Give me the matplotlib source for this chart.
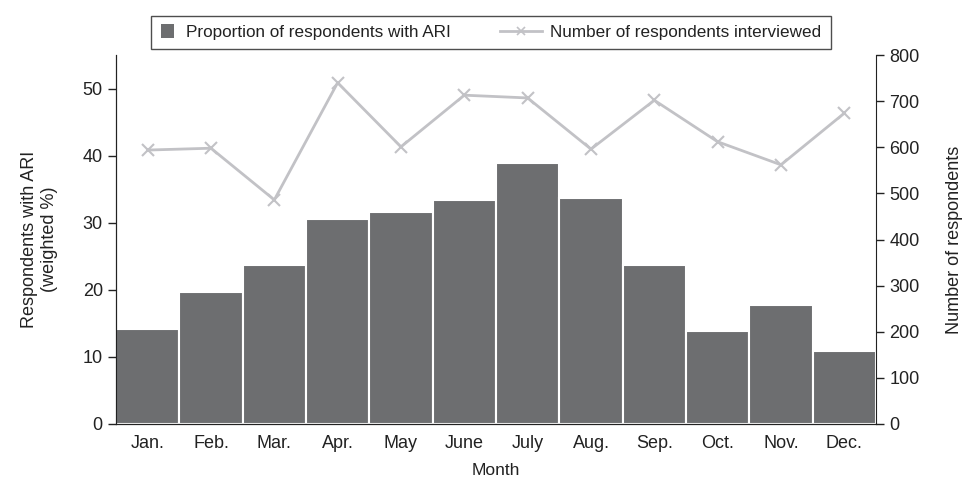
import numpy as np
import matplotlib.pyplot as plt
from matplotlib.patches import Rectangle
from matplotlib.lines import Line2D

plt.rcParams['font.family'] = ['Liberation Sans', 'DejaVu Sans']

months = ['Jan.', 'Feb.', 'Mar.', 'Apr.', 'May', 'June', 'July', 'Aug.', 'Sep.', 'Oct.', 'Nov.', 'Dec.']
ari_pct = [14.2, 19.7, 23.7, 30.6, 31.6, 33.4, 38.9, 33.7, 23.7, 13.9, 17.8, 10.9]
n_interviewed = [594, 598, 486, 740, 601, 713, 707, 596, 702, 612, 562, 674]

bar_color = '#6d6e70'
line_color = '#c2c2c6'
ink = '#222222'


# legend handles: small square for bars, longer line for the series
class SquareHandler:
    def legend_artist(self, legend, orig_handle, fontsize, handlebox):
        x0, y0 = handlebox.xdescent, handlebox.ydescent
        h = handlebox.height
        s = 9.5
        r = Rectangle((-x0, -y0 + h / 2 - s / 2), s, s, facecolor=bar_color, edgecolor='none')
        handlebox.add_artist(r)
        return r


class LineHandler:
    def legend_artist(self, legend, orig_handle, fontsize, handlebox):
        x0, y0 = handlebox.xdescent, handlebox.ydescent
        w, h = handlebox.width, handlebox.height
        ext = 17.5
        yc = -y0 + h / 2
        ln = Line2D([-x0 - ext, -x0 + w], [yc, yc], color=line_color, lw=2)
        mk = Line2D([-x0 + (w - ext) / 2], [yc], color=line_color, marker='x',
                    markersize=6, markeredgewidth=1.2, linestyle='none')
        handlebox.add_artist(ln)
        handlebox.add_artist(mk)
        return ln


fig = plt.figure(figsize=(9.64, 4.83), dpi=100)
ax = fig.add_axes([0.1203, 0.1222, 0.7884, 0.7638])
x = np.arange(len(months))
bars = ax.bar(x, ari_pct, width=1.0, color=bar_color, edgecolor='white', linewidth=1.5, zorder=2)
ax.set_xlim(-0.5, 11.5)
ax.set_ylim(0, 55)
ax.set_yticks([0, 10, 20, 30, 40, 50])
ax.set_xticks(x)
ax.set_xticklabels(months)
ax.set_xlabel('Month', fontsize=12.5, labelpad=8, color=ink)
ax.set_ylabel('Respondents with ARI\n(weighted %)', fontsize=13, labelpad=18, color=ink)
ax.tick_params(axis='x', length=0, pad=8, labelsize=13, colors=ink)
ax.tick_params(axis='y', length=6, width=1, labelsize=13, colors=ink)
ax.spines['top'].set_visible(False)
ax.spines['right'].set_visible(False)

ax2 = ax.twinx()
line, = ax2.plot(x, n_interviewed, color=line_color, linewidth=2, marker='x', markersize=8,
                 markeredgewidth=1.5, zorder=3)
ax2.set_ylim(0, 800)
ax2.set_yticks(range(0, 801, 100))
ax2.set_ylabel('Number of respondents', fontsize=13, labelpad=19, color=ink)
ax2.tick_params(axis='y', length=6, width=1, labelsize=13, colors=ink)
ax2.spines['top'].set_visible(False)
for sp in ['left', 'bottom', 'right']:
    ax.spines[sp].set_color(ink)
    ax2.spines[sp].set_color(ink)

labels = ['Proportion of respondents with ARI', 'Number of respondents interviewed']
leg = fig.legend([bars, line], labels, loc='center', bbox_to_anchor=(0.5093, 0.9327), ncol=2,
                 frameon=True, fancybox=False, edgecolor=ink, fontsize=12.3,
                 handlelength=1.0, columnspacing=4.3, borderpad=0.55, handletextpad=0.5,
                 handler_map={bars: SquareHandler(), line: LineHandler()})
leg.get_frame().set_linewidth(1)
for t in leg.get_texts():
    t.set_color(ink)

fig.savefig('out.png', dpi=100)
